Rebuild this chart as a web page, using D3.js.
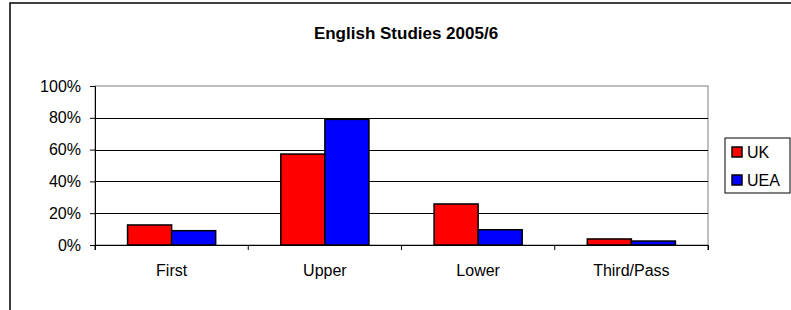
<!DOCTYPE html>
<html>
<head>
<meta charset="utf-8">
<script src="https://cdn.jsdelivr.net/npm/d3@7"></script>
<style>
  body { margin: 0; background: #fff; }
  text { font-family: "Liberation Sans", Arial, sans-serif; }
</style>
</head>
<body>
<div id="chart"></div>
<script>
var categories = ["First", "Upper", "Lower", "Third/Pass"];
var seriesNames = ["UK", "UEA"];
var ukValues = [0.126, 0.572, 0.258, 0.038];
var ueaValues = [0.09, 0.79, 0.096, 0.025];
var yTicks = [0, 0.2, 0.4, 0.6, 0.8, 1];
var colors = ["#ff0000", "#0000ff"];

var W = 791, H = 310;
var margin = {top: 86, right: 83, bottom: 65, left: 95},
    width = W - margin.left - margin.right,
    height = H - margin.top - margin.bottom;

var svg = d3.select("#chart").append("svg")
    .attr("width", W)
    .attr("height", H);

// outer chart frame (runs past the window on right and bottom)
svg.append("rect")
    .attr("x", 10).attr("y", 3)
    .attr("width", W + 20).attr("height", H + 20)
    .style("fill", "#fff")
    .style("stroke", "#000")
    .style("stroke-width", 1.5);

svg.append("text")
    .attr("x", 406)
    .attr("y", 39)
    .style("text-anchor", "middle")
    .style("font-weight", "bold")
    .style("font-size", "17px")
    .text("English Studies 2005/6");

var g = svg.append("g")
    .attr("transform", "translate(" + margin.left + "," + margin.top + ")");

var x0 = d3.scaleBand().domain(categories).range([0, width]);
var x1 = d3.scaleBand().domain(seriesNames)
    .range([0, x0.bandwidth() * 0.575])
    .paddingInner(0);
var y = d3.scaleLinear().domain([0, 1]).range([height, 0]);

// plot border
g.append("rect")
    .attr("width", width).attr("height", height)
    .style("fill", "none")
    .style("stroke", "#808080")
    .style("stroke-width", 1);

// gridlines
g.selectAll(".grid")
    .data(yTicks.slice(1, -1))
  .enter().append("line")
    .attr("x1", 0).attr("x2", width)
    .attr("y1", function(d) { return Math.round(y(d)) + 0.5; })
    .attr("y2", function(d) { return Math.round(y(d)) + 0.5; })
    .style("stroke", "#000")
    .style("stroke-width", 1);

var yAxis = d3.axisLeft(y)
    .tickValues(yTicks)
    .tickFormat(d3.format(".0%"))
    .tickSize(5)
    .tickPadding(9);

var yg = g.append("g").call(yAxis);
yg.select(".domain").style("stroke", "#000");
yg.selectAll("text").style("font-size", "16px").style("fill", "#000");

var xAxis = d3.axisBottom(x0)
    .tickSize(5)
    .tickFormat("")
    .tickSizeOuter(5);

var xg = g.append("g")
    .attr("transform", "translate(0," + height + ")")
    .call(xAxis);
xg.selectAll(".tick").remove();
xg.select(".domain").style("stroke", "#000");

// category boundary ticks
var bounds = categories.map(function(c) { return x0(c); }).concat([width]);
xg.selectAll(".bt")
    .data(bounds)
  .enter().append("line")
    .attr("x1", function(d) { return d; })
    .attr("x2", function(d) { return d; })
    .attr("y1", 0).attr("y2", 5)
    .style("stroke", "#000");

xg.selectAll(".lbl")
    .data(categories)
  .enter().append("text")
    .attr("x", function(d) { return x0(d) + x0.bandwidth() / 2; })
    .attr("y", 31)
    .style("text-anchor", "middle")
    .style("font-size", "16px")
    .style("fill", "#000")
    .text(function(d) { return d; });

var rows = categories.map(function(c, i) {
  return {cat: c, vals: [{s: "UK", v: ukValues[i]}, {s: "UEA", v: ueaValues[i]}]};
});

var groupOffset = (x0.bandwidth() - x1.range()[1]) / 2;

var groups = g.selectAll(".grp")
    .data(rows)
  .enter().append("g")
    .attr("transform", function(d) { return "translate(" + (x0(d.cat) + groupOffset) + ",0)"; });

groups.selectAll("rect")
    .data(function(d) { return d.vals; })
  .enter().append("rect")
    .attr("x", function(d) { return x1(d.s); })
    .attr("width", x1.bandwidth())
    .attr("y", function(d) { return y(d.v); })
    .attr("height", function(d) { return height - y(d.v); })
    .style("fill", function(d, i) { return colors[i]; })
    .style("stroke", "#000")
    .style("stroke-width", 1.5);

// legend
var legend = svg.append("g").attr("transform", "translate(725,138)");
legend.append("rect")
    .attr("width", 65).attr("height", 55)
    .style("fill", "#fff")
    .style("stroke", "#000")
    .style("stroke-width", 1);

var items = legend.selectAll(".item")
    .data(seriesNames)
  .enter().append("g")
    .attr("transform", function(d, i) { return "translate(7," + (9 + i * 28) + ")"; });

items.append("rect")
    .attr("width", 10).attr("height", 10)
    .style("fill", function(d, i) { return colors[i]; })
    .style("stroke", "#000")
    .style("stroke-width", 1.5);

items.append("text")
    .attr("x", 15)
    .attr("y", 11)
    .style("font-size", "16px")
    .text(function(d) { return d; });
</script>
</body>
</html>
